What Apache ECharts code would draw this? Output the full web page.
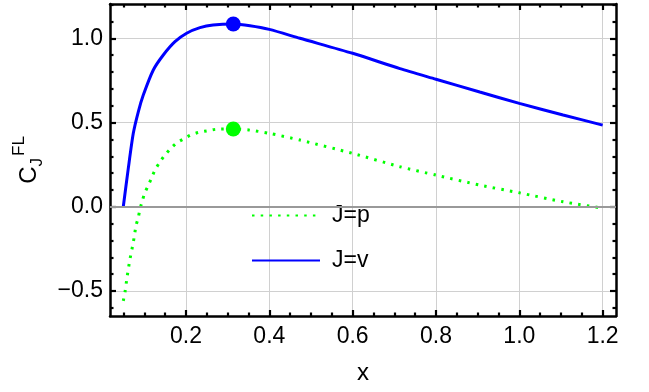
<!DOCTYPE html>
<html>
<head>
<meta charset="utf-8">
<script src="https://cdn.jsdelivr.net/npm/echarts@6/dist/echarts.min.js"></script>
<style>
html,body{margin:0;padding:0;background:#fff;}
#chart{width:649px;height:392px;}
</style>
</head>
<body>
<div id="chart"></div>
<script>
// ---- data ----
const xTicks = [0.2, 0.4, 0.6, 0.8, 1.0, 1.2];
const xMinorTicks = [0.05, 0.1, 0.15, 0.25, 0.3, 0.35, 0.45, 0.5, 0.55, 0.65, 0.7, 0.75, 0.85, 0.9, 0.95, 1.05, 1.1, 1.15];
const yTicks = [-0.5, 0.0, 0.5, 1.0];
const yMinorTicks = [-0.6, -0.4, -0.3, -0.2, -0.1, 0.1, 0.2, 0.3, 0.4, 0.6, 0.7, 0.8, 0.9, 1.1, 1.2];

const vX = [0.0495, 0.0615, 0.0735, 0.0855, 0.0975, 0.1215, 0.1455, 0.1735, 0.2015, 0.2335, 0.265, 0.3135, 0.3535, 0.4, 0.4735, 0.6, 0.7135, 0.8, 0.905, 1.0, 1.105, 1.2];
const vY = [0.0, 0.228, 0.436, 0.564, 0.663, 0.812, 0.901, 0.98, 1.03, 1.063, 1.079, 1.085, 1.075, 1.053, 1.0, 0.911, 0.82, 0.757, 0.681, 0.614, 0.545, 0.485];

const pX = [0.0495, 0.0535, 0.059, 0.0655, 0.0735, 0.08, 0.0855, 0.0895, 0.095, 0.1008, 0.1095, 0.1175, 0.1255, 0.136, 0.148, 0.1615, 0.176, 0.1935, 0.211, 0.231, 0.251, 0.272, 0.3135, 0.3535, 0.4, 0.4735, 0.6, 0.7135, 0.8, 0.905, 1.0, 1.105, 1.19];
const pY = [-0.558, -0.508, -0.41, -0.311, -0.211, -0.113, -0.063, -0.014, 0.034, 0.081, 0.127, 0.172, 0.218, 0.261, 0.303, 0.341, 0.376, 0.402, 0.426, 0.442, 0.451, 0.46, 0.462, 0.455, 0.436, 0.396, 0.317, 0.238, 0.188, 0.129, 0.083, 0.030, -0.004];

const peakV = [0.3135, 1.085];
const peakP = [0.3135, 0.462];

const xMin = 0.0176, xMax = 1.232;
const yMin = -0.648, yMax = 1.2036;

const zip = (a, b) => a.map((v, i) => [v, b[i]]);
const fmt = v => (v < 0 ? '\u2212' : '') + Math.abs(v).toFixed(1);
const FONT = 'Liberation Sans, Arial, sans-serif';

function xAx(pos, major, labels) {
  return {
    type: 'value', position: pos, min: xMin, max: xMax,
    axisLine: {show: major, onZero: false, lineStyle: {color: '#000', width: 2.5}},
    axisTick: {show: true, inside: true, length: major ? 6 : 3.5, customValues: major ? xTicks : xMinorTicks,
               lineStyle: {color: '#000', width: 2.2}},
    axisLabel: {show: labels, customValues: xTicks, formatter: fmt, margin: 9,
                color: '#000', fontSize: 23, fontFamily: FONT},
    splitLine: {show: labels, lineStyle: {color: '#d0d0d0', width: 1}},
    name: labels ? 'x' : '', nameLocation: 'middle', nameGap: 45,
    nameTextStyle: {color: '#000', fontSize: 24, fontFamily: FONT}
  };
}
function yAx(pos, major, labels) {
  return {
    type: 'value', position: pos, min: yMin, max: yMax,
    axisLine: {show: major, onZero: false, lineStyle: {color: '#000', width: 2.5}},
    axisTick: {show: true, inside: true, length: major ? 6 : 3.5, customValues: major ? yTicks : yMinorTicks,
               lineStyle: {color: '#000', width: 2.2}},
    axisLabel: {show: labels, customValues: yTicks, formatter: fmt, margin: 7,
                color: '#000', fontSize: 23, fontFamily: FONT},
    splitLine: {show: labels, lineStyle: {color: '#d0d0d0', width: 1}},
    name: labels ? '{c|C}{j|J}{f|FL}' : '', nameLocation: 'middle', nameRotate: 90, nameGap: 62,
    nameTextStyle: {color: '#000', fontFamily: FONT,
      rich: {
        c: {fontSize: 24, fontFamily: FONT, color: '#000'},
        j: {fontSize: 17, fontFamily: FONT, color: '#000', padding: [15, 0, 0, 0]},
        f: {fontSize: 17, fontFamily: FONT, color: '#000', padding: [0, 0, 20, 2]}
      }}
  };
}

const chart = echarts.init(document.getElementById('chart'), null, {renderer: 'canvas'});
chart.setOption({
  animation: false,
  backgroundColor: '#fff',
  grid: {left: 110, right: 33, top: 4, bottom: 76, containLabel: false},
  xAxis: [xAx('bottom', true, true), xAx('bottom', false, false), xAx('top', true, false), xAx('top', false, false)],
  yAxis: [yAx('left', true, true), yAx('left', false, false), yAx('right', true, false), yAx('right', false, false)],
  legend: {
    data: ['J=p', 'J=v'], orient: 'vertical', left: 246, top: 199,
    itemWidth: 68, itemHeight: 14, itemGap: 22,
    itemStyle: {opacity: 0},
    textStyle: {color: '#000', fontSize: 23, fontFamily: FONT, padding: [0, 0, 0, 7]}
  },
  series: [
    {
      name: 'zero', type: 'line', data: [], silent: true,
      markLine: {silent: true, symbol: 'none', label: {show: false},
        lineStyle: {color: '#999', width: 2, type: 'solid'},
        data: [{yAxis: 0}]}
    },
    {
      name: 'J=v', type: 'line', data: zip(vX, vY), showSymbol: false, symbol: 'none', smooth: 0.25,
      lineStyle: {color: '#0000ff', width: 3}, itemStyle: {color: '#0000ff'}, z: 3
    },
    {
      name: 'J=p', type: 'line', data: zip(pX, pY), showSymbol: false, symbol: 'none', smooth: 0.25,
      lineStyle: {color: '#00ff00', width: 3, type: [2.5, 6.2], cap: 'butt'}, itemStyle: {color: '#00ff00'}, z: 3
    },
    {
      name: 'peakV', type: 'scatter', data: [peakV], symbolSize: 15,
      itemStyle: {color: '#0000ff', opacity: 1}, z: 4
    },
    {
      name: 'peakP', type: 'scatter', data: [peakP], symbolSize: 15,
      itemStyle: {color: '#00ff00', opacity: 1}, z: 4
    }
  ]
});
</script>
</body>
</html>
